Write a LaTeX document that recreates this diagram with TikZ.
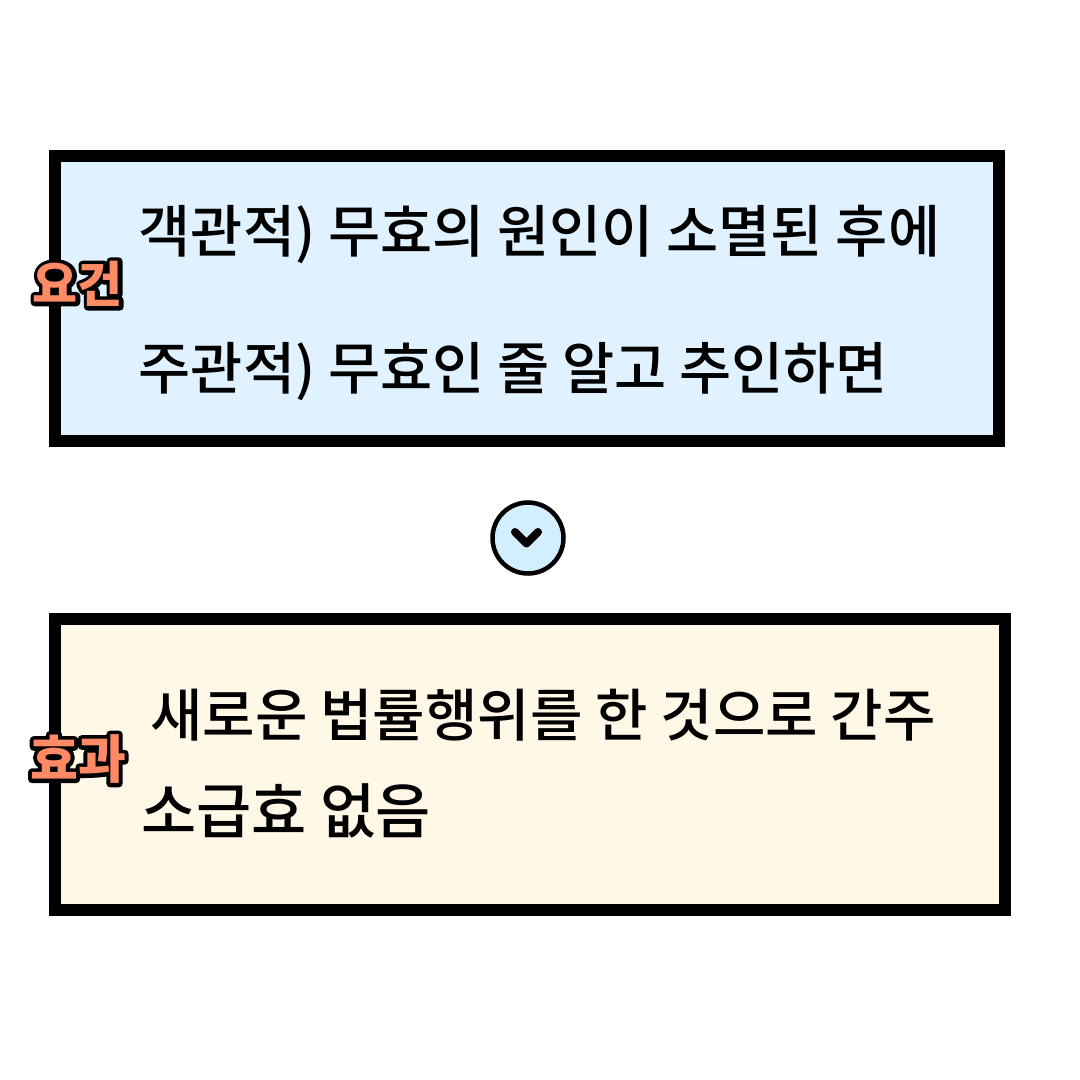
\documentclass[tikz,border=0pt]{standalone}
\usepackage{fontspec}
\newfontfamily\cjk{Noto Sans CJK KR Medium}
\newfontfamily\cjkbold{Noto Sans CJK KR Black}
\usepackage {tikz}
\usetikzlibrary{arrows.meta}
\definecolor{boxblue}{HTML}{E0F2FF}
\definecolor{boxcream}{HTML}{FFF8E6}
\definecolor{circleblue}{HTML}{D2EEFF}
\definecolor{tagorange}{HTML}{FF8A65}
\newcommand{\tagtext}[1]{\rlap{\special{pdf:code q 2 Tr 8 w 1 j 0 0 0 RG}#1\special{pdf:code Q}}#1}

\begin{document}
\begin{tikzpicture}[x=1pt,y=-1pt]
\useasboundingbox (0,0) rectangle (1080,1080);

\begin{scope}[every node/.style={draw=black,line width=12pt,inner sep=0pt,anchor=north west}]
    \node[fill=boxblue,minimum width=944pt,minimum height=285pt] (cond) at (49,150) {};
    \node[fill=boxcream,minimum width=950pt,minimum height=291pt] (eff) at (49,613) {};
\end{scope}

\begin{scope}[every node/.style={anchor=west,inner sep=0pt,font=\cjk\fontsize{56.7}{57}\selectfont}]
    \node (line1) at (138.5,234) {객관적) 무효의 원인이 소멸된 후에};
    \node (line2) at (138.5,371.5) {주관적) 무효인 줄 알고 추인하면};
    \node[font=\cjk\fontsize{57}{57}\selectfont] (line3) at (150,715) {새로운 법률행위를 한 것으로 간주};
    \node[font=\cjk\fontsize{60}{60}\selectfont] (line4) at (141,811) {소급효 없음};
\end{scope}

\begin{scope}[every node/.style={inner sep=0pt,text=tagorange}]
    \node[font=\cjkbold\fontsize{49}{49}\selectfont] (tag1) at (78,284) {\tagtext{요건}};
    \node[font=\cjkbold\fontsize{52}{52}\selectfont] (tag2) at (78,759) {\tagtext{효과}};
\end{scope}

\node[circle,draw=black,line width=4.5pt,fill=circleblue,minimum size=71pt,inner sep=0pt] (down) at (528,538) {};
\draw[line width=8pt,line cap=round,line join=round] (515,532) -- (526.5,543.5) -- (538,532);
\end{tikzpicture}
\end{document}
